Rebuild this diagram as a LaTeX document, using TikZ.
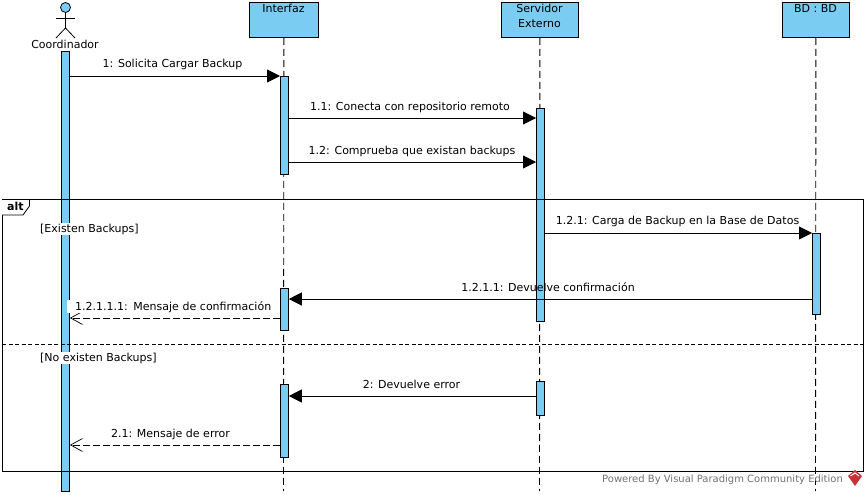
\documentclass[tikz,border=0pt]{standalone}
\usepackage{fontspec}
\setmainfont{DejaVu Sans}
\usetikzlibrary{arrows.meta}
\definecolor{vpblue}{RGB}{122,204,242}
\definecolor{vpred}{RGB}{200,50,55}

\begin{document}
\begin{tikzpicture}[
    x=1pt, y=-1pt,
    every node/.style={font=\fontsize{11}{14}\selectfont, inner sep=0pt},
    party/.style={draw=black, fill=vpblue, anchor=north west, line width=0.8pt},
    bar/.style={draw=black, fill=vpblue, anchor=north west, line width=0.8pt, minimum width=8pt},
    lifeline/.style={draw=black, line width=0.9pt, dash pattern=on 7pt off 4pt},
    call/.style={draw=black, line width=0.9pt, -{Triangle[length=13pt,width=13pt]}},
    reply/.style={draw=black, line width=0.9pt, dash pattern=on 7pt off 3pt, -{Straight Barb[length=12pt,width=13pt,line width=0.7pt]}},
    msglabel/.style={fill=white, inner xsep=2pt, inner ysep=1pt}
    ]
    \useasboundingbox (0,0) rectangle (867,495);

    % parties
    \node [party, minimum width=69pt, minimum height=35pt] (ifzBox) at (249,2) {};
    \node [party, minimum width=77pt, minimum height=35pt] (srvBox) at (501,2) {};
    \node [party, minimum width=67pt, minimum height=35pt] (bdBox) at (782,2) {};
    \node [anchor=base] (ifzText) at (283.5,12.5) {Interfaz};
    \node [anchor=base] (srvTextA) at (539.5,13) {Servidor};
    \node [anchor=base] (srvTextB) at (539.5,27.5) {Externo};
    \node [anchor=base] (bdText) at (815.5,12.5) {BD : BD};

    % actor
    \node [draw=black, fill=vpblue, circle, minimum size=10pt, line width=0.8pt] (head) at (65.5,7.5) {};
    \coordinate (hip) at (65.5,28);
    \coordinate (armL) at (56,18);
    \coordinate (armR) at (75,18);
    \coordinate (footL) at (56,38);
    \coordinate (footR) at (75,38);
    \draw [line width=0.8pt] (head.south) -- (hip);
    \draw [line width=0.8pt] (armL) -- (armR);
    \draw [line width=0.8pt] (footL) -- (hip) -- (footR);
    \node (actorText) at (65,44) {Coordinador};

    % lifelines
    \coordinate (ifzEnd) at (283.5,491);
    \coordinate (srvEnd) at (539.5,491);
    \coordinate (bdEnd) at (815.5,491);
    \draw [lifeline] (ifzBox.south) -- (ifzEnd);
    \draw [lifeline] (srvBox.south) -- (srvEnd);
    \draw [lifeline] (bdBox.south) -- (bdEnd);

    % activations
    \node [bar, minimum height=439pt] (actorBar) at (61,51.5) {};
    \node [bar, minimum height=98pt] (ifzBarA) at (280,76) {};
    \node [bar, minimum height=42pt] (ifzBarB) at (280,288) {};
    \node [bar, minimum height=73pt] (ifzBarC) at (280,384) {};
    \node [bar, minimum height=213pt] (srvBarA) at (536,108) {};
    \node [bar, minimum height=34pt] (srvBarB) at (536,381) {};
    \node [bar, minimum height=81pt] (bdBar) at (812,233) {};

    % alt frame
    \node [draw=black, line width=0.9pt, anchor=north west, minimum width=861pt, minimum height=272pt] (frame) at (2,199) {};
    \coordinate (tabA) at (29.5,199);
    \coordinate (tabB) at (29.5,206);
    \coordinate (tabC) at (23,215);
    \coordinate (tabD) at (2,215);
    \fill [white] (tabA) -- (tabB) -- (tabC) -- (tabD) -- (2,199) -- cycle;
    \draw [line width=0.8pt] (tabA) -- (tabB) -- (tabC) -- (tabD);
    \draw [line width=0.9pt] (frame.north west) -- (frame.north east);
    \node [anchor=base west, font=\fontsize{11}{12}\bfseries] (altText) at (7,210) {alt};
    \draw [line width=0.9pt, dash pattern=on 4pt off 2.5pt] (frame.west |- 0,344) -- (frame.east |- 0,344);
    \node [msglabel, anchor=base west] (guardA) at (38,232) {[Existen Backups]};
    \node [msglabel, anchor=base west] (guardB) at (38,361) {[No existen Backups]};

    % messages
    \coordinate (m1) at (0,76);
    \coordinate (m2) at (0,118);
    \coordinate (m3) at (0,162);
    \coordinate (m4) at (0,233);
    \coordinate (m5) at (0,299);
    \coordinate (m6) at (0,318);
    \coordinate (m7) at (0,396);
    \coordinate (m8) at (0,445);
    \draw [call] (actorBar.east |- m1) -- (ifzBarA.west |- m1);
    \draw [call] (ifzBarA.east |- m2) -- (srvBarA.west |- m2);
    \draw [call] (ifzBarA.east |- m3) -- (srvBarA.west |- m3);
    \draw [call] (srvBarA.east |- m4) -- (bdBar.west |- m4);
    \draw [call] (bdBar.west |- m5) -- (ifzBarB.east |- m5);
    \draw [reply] (ifzBarB.west |- m6) -- (actorBar.east |- m6);
    \draw [call] (srvBarB.west |- m7) -- (ifzBarC.east |- m7);
    \draw [reply] (ifzBarC.west |- m8) -- (actorBar.east |- m8);

    % message labels
    \node [anchor=base] (msgA) at (172.5,67) {1: Solicita Cargar Backup};
    \node [anchor=base] (msgB) at (410,110) {1.1: Conecta con repositorio remoto};
    \node [anchor=base] (msgC) at (412,154) {1.2: Comprueba que existan backups};
    \node [anchor=base] (msgD) at (677.5,224) {1.2.1: Carga de Backup en la Base de Datos};
    \node [anchor=base] (msgE) at (548,291) {1.2.1.1: Devuelve confirmación};
    \node [msglabel, anchor=base west, inner xsep=0pt, text width=212pt, align=center] (msgF) at (67,310) {1.2.1.1.1: Mensaje de confirmación};
    \node [anchor=base] (msgG) at (411.5,388) {2: Devuelve error};
    \node [anchor=base] (msgH) at (170.5,437) {2.1: Mensaje de error};

    % watermark
    \node [anchor=base west, text=black!55, font=\fontsize{10}{12}\selectfont] (mark) at (602,482) {Powered By Visual Paradigm Community Edition};
    \fill [vpred] (855,470) -- (862,476) -- (855,486) -- (848,476) -- cycle;
    \draw [white, line width=1pt] (850.5,476) -- (855,473) -- (859,476);
  \end{tikzpicture}
\end{document}
